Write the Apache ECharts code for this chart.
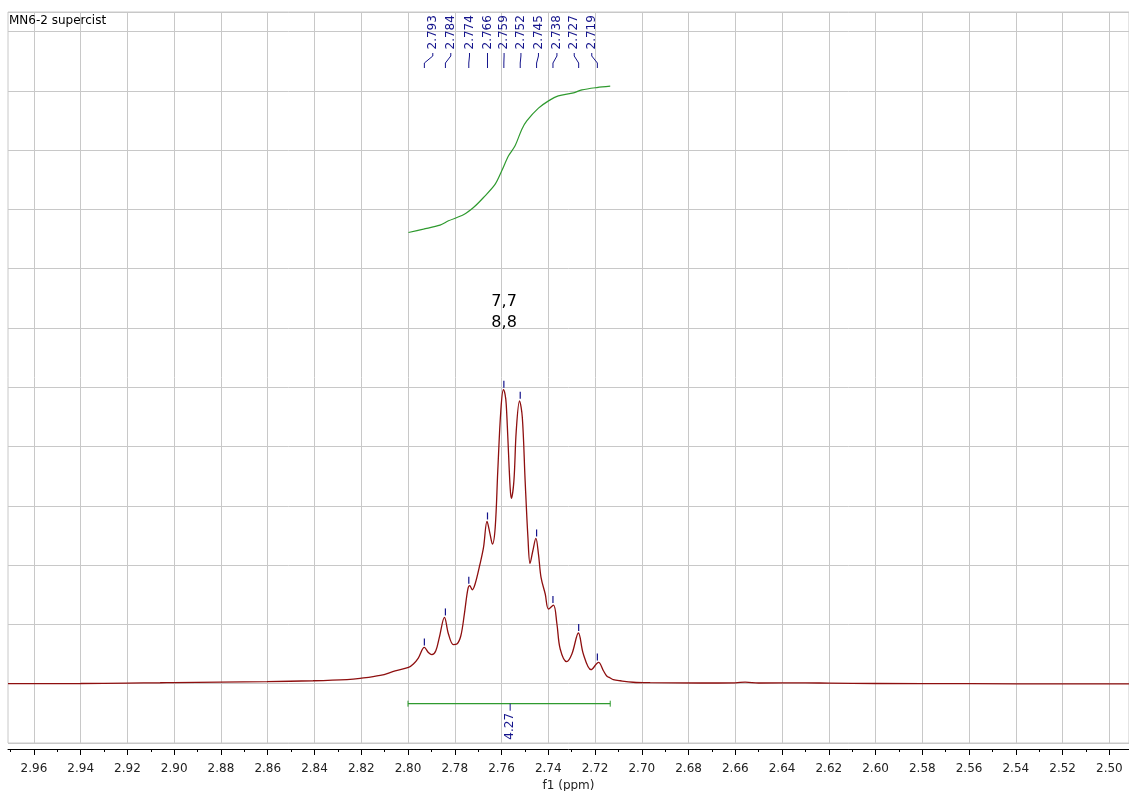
<!DOCTYPE html>
<html><head><meta charset="utf-8">
<script src="https://cdn.jsdelivr.net/npm/echarts@6/dist/echarts.min.js"></script>
<style>html,body{margin:0;padding:0;background:#fff}#c{width:1129px;height:791px}</style>
</head><body><div id="c"></div>
<script>
const chartTitle = 'MN6-2 supercist';
const axisName = 'f1 (ppm)';
const xMin = 2.4916, xMax = 2.9711;
const majorTicks = [2.50,2.52,2.54,2.56,2.58,2.60,2.62,2.64,2.66,2.68,2.70,2.72,2.74,2.76,2.78,2.80,2.82,2.84,2.86,2.88,2.90,2.92,2.94,2.96];
const minorTicks = [2.49,2.51,2.53,2.55,2.57,2.59,2.61,2.63,2.65,2.67,2.69,2.71,2.73,2.75,2.77,2.79,2.81,2.83,2.85,2.87,2.89,2.91,2.93,2.95,2.97];
const spectrum = [
[2.9711,0.000],[2.9600,0.002],[2.9400,0.004],[2.9202,0.010],[2.9060,0.016],[2.9005,0.020],
[2.8804,0.028],[2.8603,0.035],[2.8406,0.050],[2.8261,0.070],[2.8205,0.090],[2.8119,0.140],
[2.8055,0.215],[2.7998,0.275],[2.7977,0.332],[2.7956,0.433],[2.7930,0.612],[2.7913,0.528],
[2.7898,0.489],[2.7881,0.556],[2.7866,0.781],[2.7844,1.118],[2.7827,0.838],[2.7806,0.658],
[2.7791,0.669],[2.7774,0.809],[2.7759,1.175],[2.7744,1.597],[2.7736,1.653],[2.7725,1.585],
[2.7713,1.681],[2.7692,2.019],[2.7677,2.299],[2.7662,2.737],[2.7649,2.524],[2.7639,2.356],
[2.7627,2.636],[2.7616,3.592],[2.7603,4.604],[2.7592,4.958],[2.7585,4.885],[2.7580,4.717],
[2.7573,4.154],[2.7563,3.300],[2.7558,3.125],[2.7547,3.423],[2.7537,4.266],[2.7523,4.772],
[2.7511,4.491],[2.7499,3.423],[2.7487,2.467],[2.7478,2.029],[2.7466,2.243],[2.7453,2.450],
[2.7442,2.187],[2.7431,1.793],[2.7413,1.513],[2.7399,1.260],[2.7378,1.327],[2.7363,1.007],
[2.7349,0.585],[2.7321,0.371],[2.7299,0.501],[2.7271,0.855],[2.7250,0.501],[2.7217,0.236],
[2.7185,0.359],[2.7164,0.219],[2.7150,0.130],[2.7135,0.096],[2.7122,0.070],[2.7092,0.050],
[2.7037,0.025],[2.6964,0.017],[2.6750,0.012],[2.6600,0.014],[2.6558,0.028],[2.6500,0.012],
[2.6300,0.015],[2.6200,0.010],[2.6000,0.004],[2.5600,0.000],[2.5200,-0.002],[2.4916,-0.004]
];
const integralCurve = [
[2.7998,7.611],[2.7934,7.668],[2.7863,7.735],[2.7827,7.808],[2.7763,7.909],[2.7720,8.032],
[2.7677,8.201],[2.7627,8.427],[2.7599,8.651],[2.7570,8.904],[2.7542,9.073],[2.7513,9.354],
[2.7492,9.494],[2.7442,9.708],[2.7399,9.831],[2.7357,9.916],[2.7292,9.966],[2.7256,10.017],
[2.7192,10.056],[2.7135,10.079]
];
const peakPpm = [2.793,2.784,2.774,2.766,2.759,2.752,2.745,2.738,2.727,2.719];
const peakHeight = [0.612,1.118,1.653,2.737,4.958,4.772,2.450,1.327,0.855,0.359];
const peakLabelPpm = [2.7894,2.7817,2.7737,2.7660,2.7589,2.7517,2.7442,2.7363,2.7289,2.7214];
const integralRange = [2.8000, 2.7135];
const integralLevel = -0.337;
const integralValue = '4.27';
const integralLabelPpm = 2.7563;
const assignLabel = ['7,7', '8,8'];
const assignPos = [2.7589, 6.256];

const FONT = '"DejaVu Sans", Verdana, sans-serif';
const NAVY = '#14148c';
const GREEN = '#2f9a2f';
const RED = '#8e0f0f';
const GRID = '#c8c8c8';

const chart = echarts.init(document.getElementById('c'), null, {renderer: 'canvas'});
chart.setOption({
  animation: false,
  backgroundColor: '#fff',
  title: {text: chartTitle, left: 9, top: 15, padding: 0,
    textStyle: {fontSize: 12, fontWeight: 'normal', color: '#000', fontFamily: FONT}},
  grid: {left: 8, right: 0, top: 12, bottom: 48, show: true, borderColor: GRID, borderWidth: 1,
    containLabel: false, outerBoundsMode: 'none'},
  xAxis: [{
    type: 'value', min: xMin, max: xMax, inverse: true, position: 'bottom', offset: 6,
    axisLine: {show: true, onZero: false, lineStyle: {color: '#000', width: 1}},
    axisTick: {show: true, inside: false, length: 6, customValues: majorTicks, lineStyle: {color: '#000', width: 1}},
    axisLabel: {customValues: majorTicks, formatter: v => v.toFixed(2), margin: 14, fontSize: 12, color: '#222', fontFamily: FONT},
    splitLine: {show: true, lineStyle: {color: GRID, width: 1}},
    name: axisName, nameLocation: 'middle', nameGap: 30,
    nameTextStyle: {fontSize: 12, color: '#222', fontFamily: FONT}
  }, {
    type: 'value', min: xMin, max: xMax, inverse: true, position: 'bottom', offset: 6, gridIndex: 0,
    axisLine: {show: false, onZero: false},
    axisTick: {show: true, inside: false, length: 3, customValues: minorTicks, lineStyle: {color: '#000', width: 1}},
    axisLabel: {show: false},
    splitLine: {show: false}
  }],
  yAxis: {
    type: 'value', min: -1, max: 11.33, interval: 1,
    axisLine: {show: false}, axisTick: {show: false}, axisLabel: {show: false},
    splitLine: {show: true, lineStyle: {color: GRID, width: 1}}
  },
  series: [
    {type: 'line', data: spectrum, showSymbol: false, smooth: 0.35,
      lineStyle: {color: RED, width: 1.3}, z: 3},
    {type: 'line', data: integralCurve, showSymbol: false, smooth: 0.3,
      lineStyle: {color: GREEN, width: 1.2}, z: 3},
    {type: 'custom', z: 4,
      data: peakPpm.map((p, i) => [p, peakHeight[i], peakLabelPpm[i]]),
      renderItem: function (params, api) {
        const p = api.coord([api.value(0), api.value(1)]);
        const l = api.coord([api.value(2), 0]);
        const top = params.coordSys.y;
        const txt = api.value(0).toFixed(3);
        return {type: 'group', children: [
          {type: 'line', shape: {x1: p[0], y1: p[1] - 9, x2: p[0], y2: p[1] - 2},
            style: {stroke: NAVY, lineWidth: 1.2}},
          {type: 'polyline', shape: {points: [[l[0], top + 41], [l[0], top + 44], [p[0], top + 51], [p[0], top + 56]]},
            style: {stroke: NAVY, fill: null, lineWidth: 1}},
          {type: 'text', x: l[0], y: top + 37.5, rotation: Math.PI / 2,
            style: {text: txt, fill: NAVY, font: '12px ' + FONT, align: 'left', verticalAlign: 'middle'}}
        ]};
      }
    },
    {type: 'custom', z: 4,
      data: [[integralRange[0], integralRange[1], integralLevel, integralLabelPpm]],
      renderItem: function (params, api) {
        const a = api.coord([api.value(0), api.value(2)]);
        const b = api.coord([api.value(1), api.value(2)]);
        const m = api.coord([api.value(3), api.value(2)]);
        return {type: 'group', children: [
          {type: 'line', shape: {x1: a[0], y1: a[1], x2: b[0], y2: b[1]}, style: {stroke: GREEN, lineWidth: 1.2}},
          {type: 'line', shape: {x1: a[0], y1: a[1] - 3, x2: a[0], y2: a[1] + 3}, style: {stroke: GREEN, lineWidth: 1}},
          {type: 'line', shape: {x1: b[0], y1: b[1] - 3, x2: b[0], y2: b[1] + 3}, style: {stroke: GREEN, lineWidth: 1}},
          {type: 'line', shape: {x1: m[0], y1: m[1], x2: m[0], y2: m[1] + 7}, style: {stroke: NAVY, lineWidth: 1}},
          {type: 'text', x: m[0], y: m[1] + 36, rotation: Math.PI / 2,
            style: {text: integralValue, fill: NAVY, font: '12px ' + FONT, align: 'left', verticalAlign: 'middle'}}
        ]};
      }
    },
    {type: 'custom', z: 4,
      data: [assignPos],
      renderItem: function (params, api) {
        const c = api.coord([api.value(0), api.value(1)]);
        return {type: 'text', x: c[0], y: c[1],
          style: {text: assignLabel.join('\n'), fill: '#000', font: '16px ' + FONT,
            align: 'center', verticalAlign: 'middle', lineHeight: 21}};
      }
    }
  ]
});
</script>
</body></html>
